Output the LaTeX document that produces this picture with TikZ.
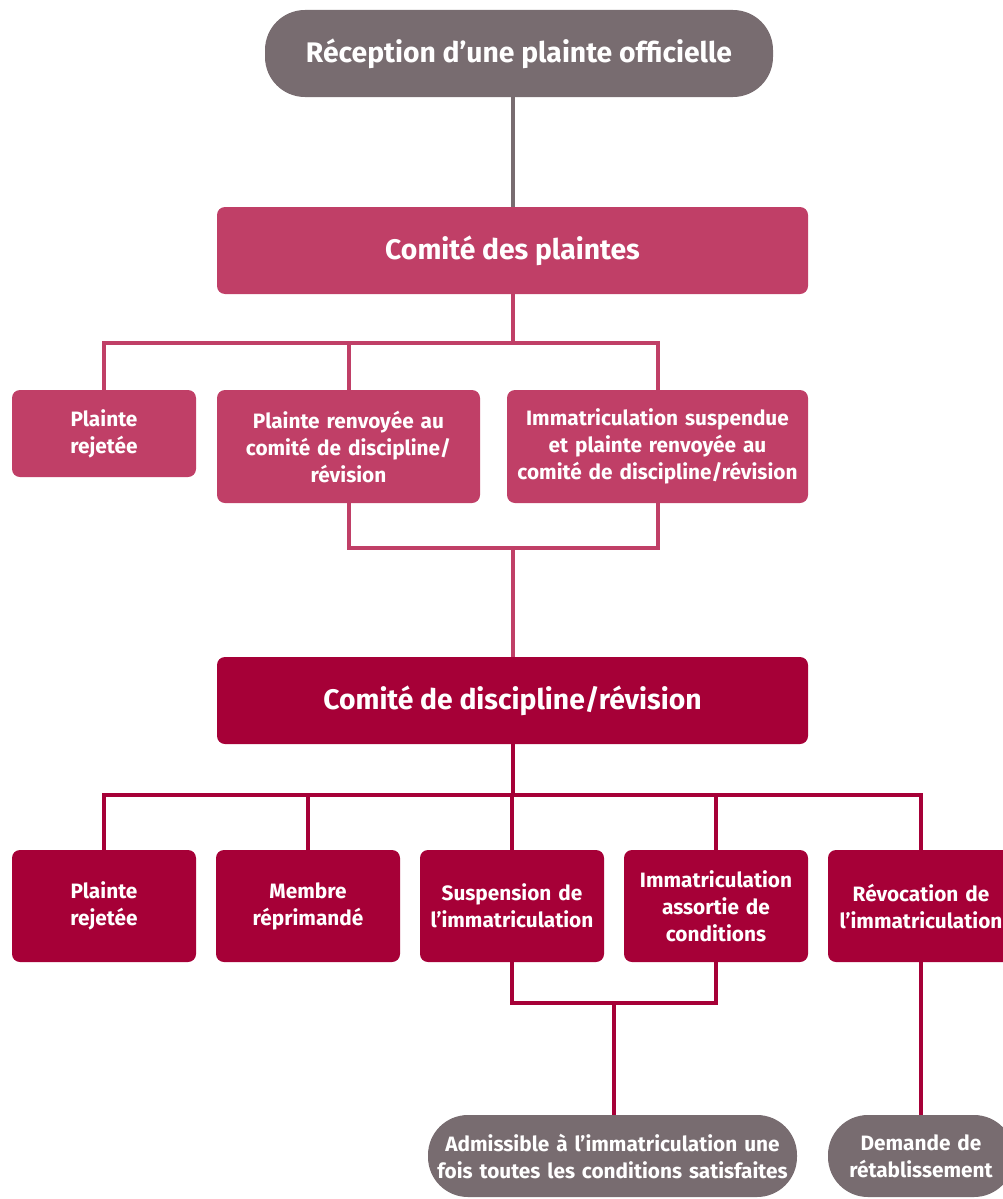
\documentclass[tikz,border=0pt]{standalone}
\usepackage{fontspec}
\setmainfont{Fira Sans}
\definecolor{cgray}{HTML}{786C70}
\definecolor{cpink}{HTML}{C03F67}
\definecolor{cdark}{HTML}{A60037}
\begin{document}
\begin{tikzpicture}[x=1pt,y=-1pt,
  base/.style={text=white, font=\bfseries\fontsize{20.8}{27}\selectfont, align=center, inner sep=0pt, anchor=center},
  pinkbox/.style={base, fill=cpink, rounded corners=8pt},
  darkbox/.style={base, fill=cdark, rounded corners=8pt},
  graypill/.style={base, fill=cgray, rounded corners=40pt},
  bigtext/.style={font=\bfseries\fontsize{28.3}{34}\selectfont},
  grayline/.style={draw=cgray, line width=4pt},
  pinkline/.style={draw=cpink, line width=4pt},
  darkline/.style={draw=cdark, line width=4pt}]
\useasboundingbox (0,0) rectangle (1003,1199);
\clip (0,0) rectangle (1003,1199);

% top
\node[graypill, bigtext, minimum width=508pt, minimum height=87pt] (top) at (519,53.5) {Réception d’une plainte officielle};
\node[pinkbox, bigtext, minimum width=591pt, minimum height=87pt] (cp) at (512.5,250.5) {Comité des plaintes};
\draw[grayline] (top.south -| cp.north) -- (cp.north);

% first level
\node[pinkbox, minimum width=184pt, minimum height=87pt, text width=176pt] (a1) at (104,433.5) {Plainte\\rejetée};
\node[pinkbox, minimum width=263pt, minimum height=113pt, text width=255pt] (a2) at (348.5,446.5) {Plainte renvoyée au\\comité de discipline/\\révision};
\node[pinkbox, minimum width=301pt, minimum height=113pt, text width=297pt] (a3) at (657.5,446.5) {Immatriculation suspendue\\et plainte renvoyée au\\comité de discipline/révision};
\coordinate (bus1) at (512.5,343);
\draw[pinkline] (cp.south) -- (bus1);
\draw[pinkline] (a1.north) -- (a1.north |- bus1) -- (a3.north |- bus1) -- (a3.north);
\draw[pinkline] (a2.north) -- (a2.north |- bus1);

% second committee
\node[darkbox, bigtext, minimum width=591pt, minimum height=87pt] (cd) at (512.5,700.5) {Comité de discipline/révision};
\coordinate (join1) at (512.5,548);
\draw[pinkline] (a2.south) -- (a2.south |- join1) -- (a3.south |- join1) -- (a3.south);
\draw[pinkline] (join1) -- (cd.north);

% second level
\node[darkbox, minimum width=184pt, minimum height=112pt, text width=176pt] (b1) at (104,906) {Plainte\\rejetée};
\node[darkbox, minimum width=184pt, minimum height=112pt, text width=176pt] (b2) at (308,906) {Membre\\réprimandé};
\node[darkbox, minimum width=184pt, minimum height=112pt, text width=184pt] (b3) at (512,906) {Suspension de\\l’immatriculation};
\node[darkbox, minimum width=184pt, minimum height=112pt, text width=176pt] (b4) at (716,906) {Immatriculation\\assortie de\\conditions};
\node[darkbox, minimum width=186pt, minimum height=112pt, text width=186pt] (b5) at (921,906) {Révocation de\\l’immatriculation};
\coordinate (bus2) at (512.5,795);
\draw[darkline] (cd.south) -- (bus2);
\draw[darkline] (b1.north) -- (b1.north |- bus2) -- (b5.north |- bus2) -- (b5.north);
\draw[darkline] (b2.north) -- (b2.north |- bus2);
\draw[darkline] (b4.north) -- (b4.north |- bus2);
\draw[darkline] (b3.north) -- (b3.north |- bus2);

% bottom pills
\node[graypill, minimum width=369pt, minimum height=82pt, text width=365pt] (c1) at (612.5,1156) {Admissible à l’immatriculation une\\fois toutes les conditions satisfaites};
\node[graypill, minimum width=186pt, minimum height=82pt, text width=182pt] (c2) at (921,1156) {Demande de\\rétablissement};
\coordinate (join2) at (614,1003);
\draw[darkline] (b3.south) -- (b3.south |- join2) -- (b4.south |- join2) -- (b4.south);
\draw[darkline] (join2) -- (join2 |- c1.north);
\draw[darkline] (b5.south) -- (c2.north);
\end{tikzpicture}
\end{document}
